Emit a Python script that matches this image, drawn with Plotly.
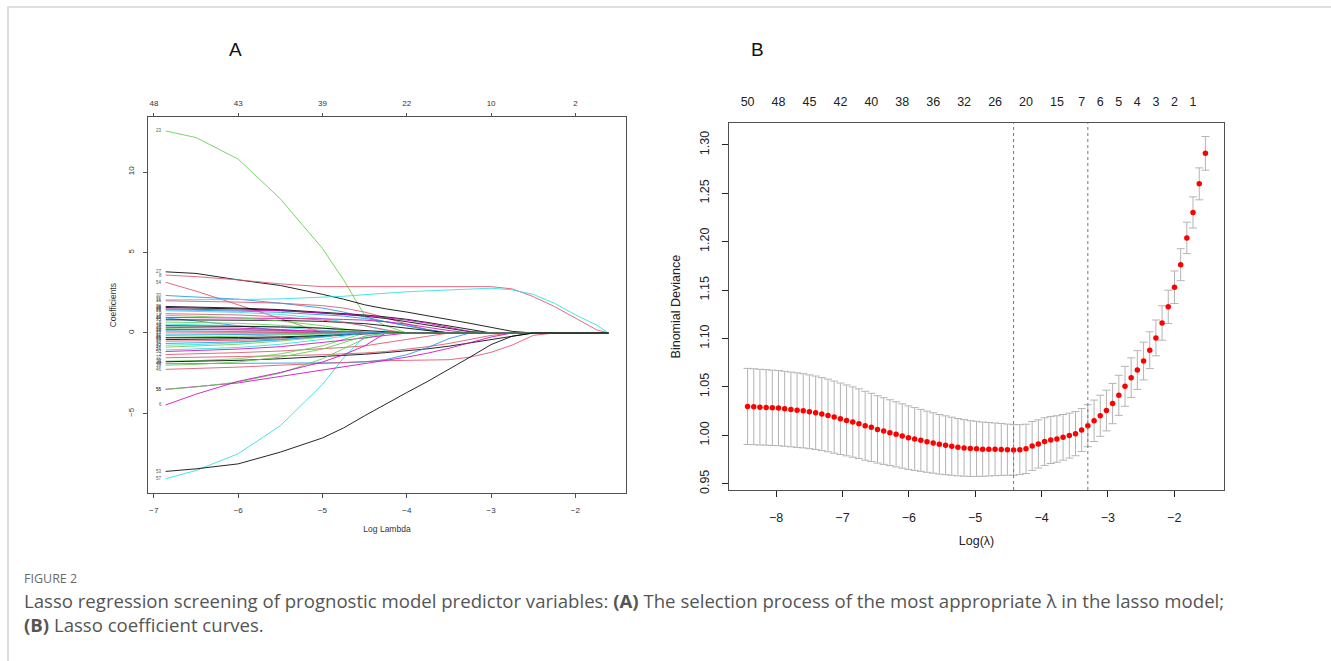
import plotly.graph_objects as go

W, H = 1331, 661

# ---------------- Panel A : lasso coefficient paths ----------------
LOG_LAMBDA_A = [-6.86, -6.5, -6.0, -5.5, -5.0, -4.75, -4.5, -4.25, -4.0, -3.75,
                -3.5, -3.25, -3.0, -2.75, -2.5, -2.25, -2.0, -1.75, -1.61]
A_X_TICKS = [-7, -6, -5, -4, -3, -2]
A_TOP_LABELS = ["48", "43", "39", "22", "10", "2"]
A_Y_TICKS = [-5, 0, 5, 10]

PALETTE = {"black": "#000000", "red": "#DF536B", "green": "#61D04F",
           "blue": "#2297E6", "cyan": "#28E2E5", "magenta": "#CD0BBC"}

VAR_LABELS = ["23", "57", "27", "8", "54", "30", "31", "16", "38", "28", "12", "19",
              "25", "26", "44", "35", "5", "40", "3", "41", "10", "13", "17", "22",
              "29", "33", "37", "42", "47", "2", "32", "36", "11", "49", "46", "55",
              "56", "6", "9", "14", "20", "45", "24", "34", "50", "18", "39", "53"]
VAR_COLORS = ["green", "cyan", "black", "red", "red", "blue", "cyan", "red", "black", "black",
              "magenta", "cyan", "blue", "magenta", "blue", "black", "green", "cyan", "magenta",
              "green", "blue", "red", "cyan", "blue", "green", "black", "red", "cyan", "green",
              "red", "red", "green", "black", "blue", "red", "magenta", "green", "magenta",
              "red", "green", "magenta", "black", "cyan", "blue", "magenta", "black", "green",
              "black"]
VAR_PATHS = [
    [12.55, 12.14, 10.8, 8.33, 5.25, 3.3, 1.1, 0.45, 0],
    [-9.05, -8.54, -7.5, -5.76, -3.19, -1.54, -0.2, 0],
    [3.8, 3.7, 3.3, 2.95, 2.4, 2.1, 1.75, 1.5, 1.3, 1.08, 0.85, 0.6, 0.35, 0.1, 0],
    [3.6, 3.5, 3.3, 3.05, 2.88, 2.88, 2.88, 2.89, 2.9, 2.9, 2.9, 2.9, 2.88, 2.74, 2.26, 1.65, 0.93, 0.2, 0],
    [3.15, 2.6, 1.75, 0.9, 0],
    [2.33, 2.25, 2.1, 1.85, 1.55, 1.3, 1.0, 0.7, 0.45, 0.2, 0],
    [2.06, 2.06, 2.08, 2.12, 2.2, 2.28, 2.38, 2.48, 2.56, 2.62, 2.68, 2.74, 2.78, 2.68, 2.4, 1.85, 1.13, 0.5, 0],
    [2.0, 1.98, 1.92, 1.85, 1.7, 1.55, 1.3, 0.95, 0.55, 0.2, 0],
    [1.65, 1.62, 1.55, 1.45, 1.3, 1.22, 1.12, 1.0, 0.85, 0.65, 0.45, 0.22, 0],
    [1.58, 1.55, 1.5, 1.4, 1.25, 1.15, 1.05, 0.9, 0.7, 0.5, 0.28, 0.08, 0],
    [1.5, 1.48, 1.45, 1.38, 1.25, 1.18, 1.08, 0.95, 0.8, 0.6, 0.35, 0.1, 0],
    [1.38, 1.35, 1.28, 1.15, 0.9, 0.7, 0.45, 0.15, 0],
    [1.45, 1.42, 1.36, 1.28, 1.15, 1.05, 0.9, 0.7, 0.45, 0.2, 0],
    [0.97, 0.96, 0.95, 0.93, 0.88, 0.84, 0.8, 0.7, 0.55, 0.35, 0.15, 0],
    [0.93, 0.75, 0.45, 0.15, 0],
    [0.82, 0.82, 0.8, 0.78, 0.72, 0.66, 0.58, 0.45, 0.3, 0.12, 0],
    [0.68, 0.66, 0.6, 0.48, 0.3, 0.15, 0],
    [0.55, 0.52, 0.45, 0.35, 0.2, 0.08, 0],
    [0.35, 0.34, 0.3, 0.22, 0.1, 0],
    [0.27, 0.25, 0.2, 0.12, 0],
    [0.14, 0.12, 0.08, 0.02, 0],
    [0.06, 0.05, 0.03, 0],
    [-0.06, -0.05, -0.03, 0],
    [-0.14, -0.12, -0.08, -0.03, 0],
    [-0.27, -0.25, -0.2, -0.12, -0.04, 0],
    [-0.41, -0.4, -0.36, -0.3, -0.2, -0.1, 0],
    [-0.51, -0.5, -0.45, -0.38, -0.25, -0.12, 0],
    [-0.76, -0.72, -0.6, -0.42, -0.15, 0],
    [-0.88, -0.82, -0.7, -0.5, -0.25, -0.05, 0],
    [-1.34, -1.3, -1.22, -1.12, -1.0, -0.9, -0.8, -0.62, -0.4, -0.2, 0],
    [-1.54, -1.52, -1.48, -1.42, -1.35, -1.3, -1.24, -1.15, -1.02, -0.85, -0.65, -0.4, -0.15, 0],
    [-1.75, -1.72, -1.6, -1.3, -0.8, -0.4, 0],
    [-1.79, -1.76, -1.7, -1.6, -1.48, -1.4, -1.32, -1.22, -1.12, -0.98, -0.82, -0.62, -0.4, -0.18, 0],
    [-1.91, -1.9, -1.9, -1.9, -1.88, -1.85, -1.8, -1.65, -1.35, -0.9, -0.35, 0],
    [-2.26, -2.22, -2.12, -2.0, -1.88, -1.82, -1.76, -1.72, -1.7, -1.68, -1.66, -1.5, -1.2, -0.75, -0.15, 0],
    [-3.5, -3.35, -3.1, -2.7, -2.3, -2.1, -1.9, -1.7, -1.5, -1.25, -0.95, -0.6, -0.25, 0],
    [-3.5, -3.35, -3.05, -2.5, -1.6, -1.0, -0.35, 0],
    [-4.47, -3.8, -3.0, -2.45, -1.8, -1.35, -0.8, 0],
    [1.2, 1.18, 1.12, 1.0, 0.8, 0.65, 0.45, 0.2, 0],
    [1.1, 1.05, 0.95, 0.75, 0.45, 0.25, 0.05, 0],
    [0.22, 0.22, 0.2, 0.17, 0.12, 0.08, 0.03, 0],
    [-0.3, -0.3, -0.28, -0.24, -0.18, -0.12, -0.06, 0],
    [-1.05, -1.0, -0.9, -0.7, -0.4, -0.2, 0],
    [-0.65, -0.62, -0.55, -0.42, -0.22, -0.1, 0],
    [-1.15, -1.1, -1.0, -0.85, -0.6, -0.45, -0.3, -0.15, 0],
    [0.45, 0.44, 0.42, 0.38, 0.3, 0.24, 0.17, 0.08, 0],
    [-2.0, -1.95, -1.8, -1.5, -1.0, -0.6, -0.2, 0],
    [-8.6, -8.44, -8.13, -7.4, -6.52, -5.9, -5.14, -4.4, -3.7, -3.0, -2.26, -1.5, -0.72, -0.2, 0],
]

# ---------------- Panel B : cross-validation curve ----------------
LOG_LAMBDA_B = [
    -8.430, -8.337, -8.244, -8.150, -8.057, -7.964, -7.871, -7.777, -7.684, -7.591,
    -7.498, -7.404, -7.311, -7.218, -7.125, -7.031, -6.938, -6.845, -6.752, -6.658,
    -6.565, -6.472, -6.379, -6.285, -6.192, -6.099, -6.006, -5.912, -5.819, -5.726,
    -5.633, -5.540, -5.446, -5.353, -5.260, -5.167, -5.073, -4.980, -4.887, -4.794,
    -4.700, -4.607, -4.514, -4.421, -4.327, -4.234, -4.141, -4.048, -3.954, -3.861,
    -3.768, -3.675, -3.581, -3.488, -3.395, -3.302, -3.208, -3.115, -3.022, -2.929,
    -2.835, -2.742, -2.649, -2.556, -2.462, -2.369, -2.276, -2.183, -2.090, -1.996,
    -1.903, -1.810, -1.717, -1.623, -1.530]
CV_MEAN = [
    1.0298, 1.0295, 1.0291, 1.0288, 1.0284, 1.0281, 1.0274, 1.0267, 1.0260, 1.0253,
    1.0243, 1.0233, 1.0219, 1.0205, 1.0188, 1.0171, 1.0154, 1.0137, 1.0120, 1.0099,
    1.0082, 1.0061, 1.0044, 1.0027, 1.0010, 0.9993, 0.9976, 0.9962, 0.9948, 0.9934,
    0.9921, 0.9907, 0.9897, 0.9887, 0.9877, 0.9870, 0.9863, 0.9860, 0.9857, 0.9856,
    0.9855, 0.9854, 0.9852, 0.9849, 0.9852, 0.9860, 0.9890, 0.9911, 0.9935, 0.9952,
    0.9962, 0.9979, 0.9997, 1.0017, 1.0054, 1.0099, 1.0150, 1.0202, 1.0256, 1.0328,
    1.0413, 1.0506, 1.0595, 1.0674, 1.0767, 1.0879, 1.1006, 1.1160, 1.1327, 1.1529,
    1.1762, 1.2039, 1.2302, 1.2597, 1.2912]
CV_SD = [
    .0393, .0392, .0391, .0390, .0389, .0388, .0387, .0386, .0385, .0383,
    .0381, .0379, .0377, .0375, .0372, .0369, .0366, .0363, .0360, .0356,
    .0352, .0348, .0344, .0340, .0336, .0332, .0328, .0324, .0320, .0316,
    .0312, .0308, .0304, .0300, .0296, .0292, .0288, .0284, .0280, .0276,
    .0272, .0268, .0264, .0261, .0258, .0255, .0252, .0249, .0246, .0243,
    .0240, .0236, .0232, .0228, .0222, .0217, .0214, .0212, .0210, .0208,
    .0207, .0206, .0205, .0200, .0195, .0190, .0185, .0178, .0172, .0168,
    .0165, .0162, .0161, .0165, .0174]
B_TOP_POS = [-8.430, -7.964, -7.498, -7.031, -6.565, -6.099, -5.633, -5.167, -4.700,
             -4.234, -3.768, -3.395, -3.115, -2.835, -2.556, -2.276, -1.996, -1.717]
B_TOP_LABELS = ["50", "48", "45", "42", "40", "38", "36", "32", "26",
                "20", "15", "7", "6", "5", "4", "3", "2", "1"]
B_X_TICKS = [-8, -7, -6, -5, -4, -3, -2]
B_Y_TICKS = [0.95, 1.00, 1.05, 1.10, 1.15, 1.20, 1.25, 1.30]
LOG_LAMBDA_MIN = -4.421
LOG_LAMBDA_1SE = -3.302

CAPTION_LINES = [
    "Lasso regression screening of prognostic model predictor variables: <b>(A)</b> "
    "The selection process of the most appropriate λ in the lasso model;",
    "<b>(B)</b> Lasso coefficient curves.",
]

R_FONT = "Liberation Sans, Arial, sans-serif"
CAP_FONT = "Open Sans, Lato, sans-serif"
AXIS_COL = "#505050"


def fx(p):
    return p / W


def fy(p):
    return 1 - p / H


fig = go.Figure()

n = len(LOG_LAMBDA_A)
for lab, col, path in zip(VAR_LABELS, VAR_COLORS, VAR_PATHS):
    full = path + [0] * (n - len(path))
    fig.add_trace(go.Scatter(x=LOG_LAMBDA_A, y=full, mode="lines", opacity=0.85,
                             line=dict(color=PALETTE[col], width=1),
                             xaxis="x", yaxis="y", showlegend=False, hoverinfo="skip"))

# invisible carrier for top axis of A
fig.add_trace(go.Scatter(x=A_X_TICKS, y=[0] * len(A_X_TICKS), mode="markers",
                         marker=dict(opacity=0), xaxis="x3", yaxis="y",
                         showlegend=False, hoverinfo="skip"))

fig.add_trace(go.Scatter(
    x=LOG_LAMBDA_B, y=CV_MEAN, mode="markers",
    marker=dict(color="#FF0000", size=5.5, line=dict(width=0)),
    error_y=dict(type="data", array=CV_SD, symmetric=True, color="#B4B4B4",
                 thickness=1, width=4),
    xaxis="x2", yaxis="y2", showlegend=False, hoverinfo="skip"))

fig.add_trace(go.Scatter(x=B_TOP_POS, y=[1.0] * len(B_TOP_POS), mode="markers",
                         marker=dict(opacity=0), xaxis="x4", yaxis="y2",
                         showlegend=False, hoverinfo="skip"))

annotations = []
for lab, path in zip(VAR_LABELS, VAR_PATHS):
    annotations.append(dict(x=LOG_LAMBDA_A[0], y=path[0], xref="x", yref="y", text=lab,
                            showarrow=False, xanchor="right", yanchor="middle", xshift=-2,
                            font=dict(family=R_FONT, size=4.5, color="#555")))

annotations += [
    dict(x=fx(235), y=fy(50), xref="paper", yref="paper", text="A", showarrow=False,
         xanchor="center", yanchor="middle",
         font=dict(family=R_FONT, size=19, color="#111")),
    dict(x=fx(757), y=fy(50), xref="paper", yref="paper", text="B", showarrow=False,
         xanchor="center", yanchor="middle",
         font=dict(family=R_FONT, size=19, color="#111")),
    dict(x=fx(22), y=fy(582), xref="paper", yref="paper", text="FIGURE 2", showarrow=False,
         xanchor="left", yanchor="middle",
         font=dict(family=CAP_FONT, size=12.5, color="#6b6b6b")),
    dict(x=fx(22), y=fy(616), xref="paper", yref="paper",
         text="<br>".join(CAPTION_LINES), align="left",
         showarrow=False, xanchor="left", yanchor="middle",
         font=dict(family=CAP_FONT, size=18.6, color="#555")),
]

shapes = [
    dict(type="line", xref="x2", yref="y2 domain", x0=LOG_LAMBDA_MIN, x1=LOG_LAMBDA_MIN,
         y0=0, y1=1, line=dict(color="#777", width=1, dash="dot")),
    dict(type="line", xref="x2", yref="y2 domain", x0=LOG_LAMBDA_1SE, x1=LOG_LAMBDA_1SE,
         y0=0, y1=1, line=dict(color="#777", width=1, dash="dot")),
    dict(type="rect", xref="paper", yref="paper", x0=fx(8), x1=fx(1345), y0=fy(680), y1=fy(7),
         line=dict(color="#d4d4d4", width=1.5), fillcolor="rgba(0,0,0,0)", layer="below"),
]

A_X_RANGE = [-7.07, -1.40]
B_X_RANGE = [-8.71, -1.25]

fig.update_layout(
    width=W, height=H, margin=dict(l=0, r=0, t=0, b=0),
    paper_bgcolor="white", plot_bgcolor="white",
    annotations=annotations, shapes=shapes, showlegend=False,
    xaxis=dict(domain=[fx(148), fx(626)], anchor="y", range=A_X_RANGE,
               tickvals=A_X_TICKS, showline=True, mirror=True, linecolor=AXIS_COL,
               linewidth=1, ticks="outside", ticklen=4, tickcolor=AXIS_COL,
               tickfont=dict(family=R_FONT, size=8, color="#333"), ticklabelstandoff=5,
               showgrid=False, zeroline=False,
               title=dict(text="Log Lambda", font=dict(family=R_FONT, size=8.5, color="#333"),
                          standoff=12)),
    yaxis=dict(domain=[fy(496), fy(118)], anchor="x", range=[-9.94, 13.4],
               tickvals=A_Y_TICKS, tickangle=-90, showline=True, mirror=True,
               linecolor=AXIS_COL, linewidth=1, ticks="outside", ticklen=4, tickcolor=AXIS_COL,
               tickfont=dict(family=R_FONT, size=8, color="#333"), ticklabelstandoff=6,
               showgrid=False, zeroline=False,
               title=dict(text="Coefficients", font=dict(family=R_FONT, size=8.5, color="#333"),
                          standoff=8)),
    xaxis3=dict(overlaying="x", side="top", anchor="y", range=A_X_RANGE,
                tickvals=A_X_TICKS, ticktext=A_TOP_LABELS, ticks="outside", ticklen=3,
                tickcolor=AXIS_COL, showline=False, showgrid=False, zeroline=False,
                tickfont=dict(family=R_FONT, size=8, color="#333"), ticklabelstandoff=4),
    xaxis2=dict(domain=[fx(729), fx(1224)], anchor="y2", range=B_X_RANGE,
                tickvals=B_X_TICKS, showline=True, mirror=True, linecolor=AXIS_COL,
                linewidth=1.2, ticks="outside", ticklen=6, tickcolor="#222",
                tickfont=dict(family=R_FONT, size=12.5, color="#222"), ticklabelstandoff=10,
                showgrid=False, zeroline=False,
                title=dict(text="Log(λ)", font=dict(family=R_FONT, size=12.5, color="#222"),
                           standoff=12)),
    yaxis2=dict(domain=[fy(493), fy(124)], anchor="x2", range=[0.9435, 1.3223],
                tickvals=B_Y_TICKS, tickformat=".2f", tickangle=-90, showline=True,
                mirror=True, linecolor=AXIS_COL, linewidth=1.2, ticks="outside", ticklen=6,
                tickcolor="#222", tickfont=dict(family=R_FONT, size=12.5, color="#222"),
                ticklabelstandoff=8, showgrid=False, zeroline=False,
                title=dict(text="Binomial Deviance",
                           font=dict(family=R_FONT, size=12.5, color="#222"), standoff=14)),
    xaxis4=dict(overlaying="x2", side="top", anchor="y2", range=B_X_RANGE,
                tickvals=B_TOP_POS, ticktext=B_TOP_LABELS, ticks="", showline=False,
                showgrid=False, zeroline=False,
                tickfont=dict(family=R_FONT, size=12.5, color="#222"), ticklabelstandoff=14),
)

fig.write_html("out.html")
